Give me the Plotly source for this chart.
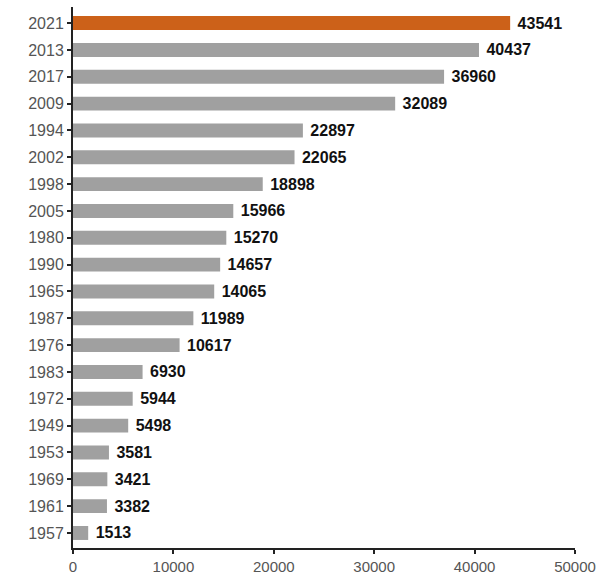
import plotly.graph_objects as go

years = ["2021", "2013", "2017", "2009", "1994", "2002", "1998", "2005", "1980", "1990",
         "1965", "1987", "1976", "1983", "1972", "1949", "1953", "1969", "1961", "1957"]
values = [43541, 40437, 36960, 32089, 22897, 22065, 18898, 15966, 15270, 14657,
          14065, 11989, 10617, 6930, 5944, 5498, 3581, 3421, 3382, 1513]
highlight_year = "2021"
x_ticks = [0, 10000, 20000, 30000, 40000, 50000]

# bottom-to-top order for the category axis
ys = years[::-1]
xs = values[::-1]
colors = ["#CC6119" if y == highlight_year else "#A0A0A0" for y in ys]

fig = go.Figure(go.Bar(
    x=xs, y=ys, orientation="h",
    marker=dict(color=colors, line=dict(width=0)),
    width=0.52,
    text=[f" {v}" for v in xs],
    textposition="outside",
    constraintext="none",
    textfont=dict(family="Liberation Sans, Arial", size=16, color="#111111", weight="bold"),
    cliponaxis=False,
))

fig.update_layout(
    width=609, height=576,
    margin=dict(l=73, r=34, t=7, b=28),
    paper_bgcolor="white", plot_bgcolor="white",
    showlegend=False,
    font=dict(family="Liberation Sans, Arial", size=16, color="#555555"),
    xaxis=dict(range=[0, 50000], tickvals=x_ticks,
               ticktext=[str(t) for t in x_ticks],
               tickfont=dict(size=15),
               showgrid=False, zeroline=False, showline=True, linecolor="#222222", linewidth=2,
               ticks="outside", ticklen=4, tickcolor="#222222", tickwidth=1.5,
               ticklabelstandoff=0, automargin=False),
    yaxis=dict(type="category", categoryorder="array", categoryarray=ys,
               range=[-0.56, 19.6], showgrid=False, zeroline=False,
               showline=True, linecolor="#222222", linewidth=2,
               ticks="outside", ticklen=4, tickcolor="#222222", tickwidth=1.5,
               automargin=False),
)

fig.write_html("out.html")
